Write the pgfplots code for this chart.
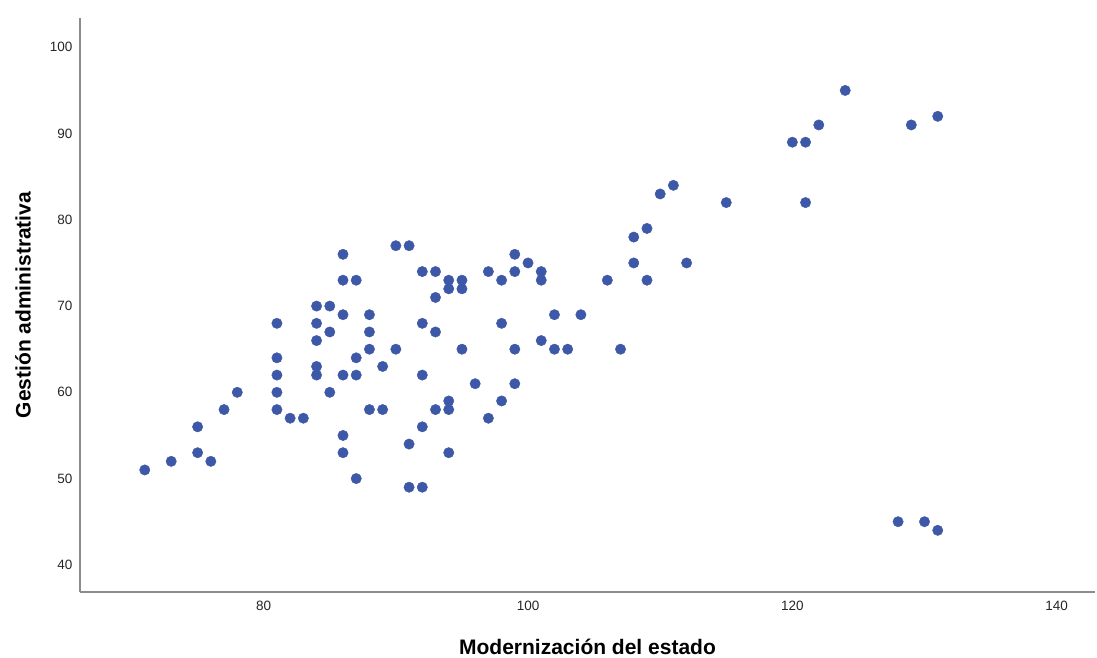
\documentclass[border=0pt]{standalone}
\usepackage{fontspec}
\setmainfont{Liberation Sans}
\usepackage{pgfplots}
\pgfplotsset{compat=1.18}
\usetikzlibrary{calc}
\definecolor{dotblue}{HTML}{3E58A8}
\definecolor{axgray}{HTML}{8C8C8C}
\begin{document}
\begin{tikzpicture}
\begin{axis}[
  name=ax,
  scale only axis,
  width=1015pt, height=574pt,
  xmin=66.1, xmax=142.9,
  ymin=36.85, ymax=103.4,
  axis x line=bottom, axis y line=left,
  axis line style={-, axgray, line width=1.2pt},
  xtick={80,100,120,140},
  ytick={40,50,60,70,80,90,100},
  major tick length=0pt,
  tick style={draw=none},
  /pgf/number format/assume math mode=true,
  ticklabel style={font=\fontsize{13.5}{15}\selectfont, text=black!85},
  xticklabel style={yshift=-6pt},
  yticklabel style={xshift=-4pt},
  xlabel={\textbf{Modernización del estado}},
  ylabel={\textbf{Gestión administrativa}},
  label style={font=\fontsize{21}{24}\selectfont},
  xlabel style={at={(0.5,0)}, anchor=center, yshift=-55pt},
  ylabel style={at={(0,0.5)}, anchor=center, yshift=57pt},
  clip=false,
]
\addplot[only marks, mark=*, mark size=5.2pt, mark options={fill=dotblue, draw=dotblue}] table {
x y
71 51
73 52
75 56
75 53
76 52
77 58
78 60
81 68
81 64
81 62
81 60
81 58
82 57
83 57
84 70
84 68
84 66
84 63
84 62
85 70
85 67
85 60
86 76
86 73
86 69
86 62
86 55
86 53
87 73
87 64
87 62
87 50
88 69
88 67
88 65
88 58
89 63
89 58
90 77
90 65
91 77
91 54
91 49
92 74
92 68
92 62
92 56
92 49
93 74
93 71
93 67
93 58
94 73
94 72
94 59
94 58
94 53
95 73
95 72
95 65
96 61
97 74
97 57
98 73
98 68
98 59
99 76
99 74
99 65
99 61
100 75
101 74
101 73
101 66
102 69
102 65
103 65
104 69
106 73
107 65
108 78
108 75
109 79
109 73
110 83
111 84
112 75
115 82
120 89
121 89
121 82
122 91
124 95
128 45
129 91
130 45
131 92
131 44
};
\end{axis}
\pgfresetboundingbox
\path ($(ax.south west)+(-80pt,-65pt)$) rectangle ($(ax.north east)+(2pt,18pt)$);
\end{tikzpicture}
\end{document}
